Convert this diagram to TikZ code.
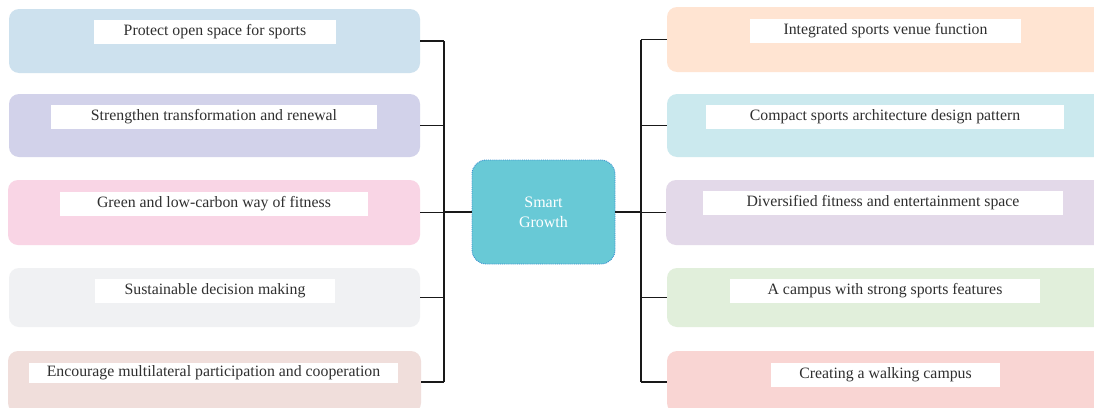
\documentclass[tikz,border=0pt]{standalone}
\usepackage{fontspec}
\setmainfont{Liberation Serif}
\begin{document}
\begin{tikzpicture}[x=1pt,y=-1pt,
  box/.style={rectangle, rounded corners=10pt, draw=none, inner sep=0pt, minimum width=#1},
  lbl/.style={rectangle, fill=white, inner sep=0pt, minimum height=24pt, text=txt, font=\fontsize{15.8}{18}\selectfont},
  conn/.style={draw=black!90, line width=1.2pt},
  ctr/.style={rectangle, rounded corners=14pt, fill=cfill, draw=cborder, densely dotted, line width=0.9pt, minimum width=143pt, minimum height=104pt, text=white, align=center, font=\fontsize{16}{20}\selectfont}]
\definecolor{txt}{HTML}{2F2F2F}
\definecolor{cfill}{HTML}{68C9D6}
\definecolor{cborder}{HTML}{3A8FD0}
\definecolor{cL1}{HTML}{CDE1EE}
\definecolor{cL2}{HTML}{D2D2EA}
\definecolor{cL3}{HTML}{F9D5E5}
\definecolor{cL4}{HTML}{F0F1F3}
\definecolor{cL5}{HTML}{F0DEDB}
\definecolor{cR1}{HTML}{FFE4D2}
\definecolor{cR2}{HTML}{CBE9EE}
\definecolor{cR3}{HTML}{E3D9E9}
\definecolor{cR4}{HTML}{E1EFDB}
\definecolor{cR5}{HTML}{F9D5D3}
\useasboundingbox (0,0) rectangle (1094,407);
\clip (0,0) rectangle (1094,407);
\fill[white] (0,0) rectangle (1094,407);
% left boxes
\node[box=411pt, fill=cL1, minimum height=64pt] (l1) at (214.5,41) {};
\node[box=411pt, fill=cL2, minimum height=63pt] (l2) at (214.5,125.5) {};
\node[box=412pt, fill=cL3, minimum height=65pt] (l3) at (214,212.5) {};
\node[box=411pt, fill=cL4, minimum height=59pt] (l4) at (214.5,297.5) {};
\node[box=413pt, fill=cL5, minimum height=62pt] (l5) at (214.5,382) {};
% right boxes
\node[box=450pt, fill=cR1, minimum height=65pt] (r1) at (892,39.5) {};
\node[box=450pt, fill=cR2, minimum height=63pt] (r2) at (892,125.5) {};
\node[box=450pt, fill=cR3, minimum height=65pt] (r3) at (891,212.5) {};
\node[box=450pt, fill=cR4, minimum height=59pt] (r4) at (892,297.5) {};
\node[box=450pt, fill=cR5, minimum height=62pt] (r5) at (892,382) {};
% labels
\node[lbl, minimum width=242pt] (t1) at (215,32) {Protect open space for sports};
\node[lbl, minimum width=326pt] (t2) at (214,117) {Strengthen transformation and renewal};
\node[lbl, minimum width=308pt] (t3) at (214,204) {Green and low-carbon way of fitness};
\node[lbl, minimum width=240pt] (t4) at (215,291) {Sustainable decision making};
\node[lbl, minimum width=369pt, minimum height=20pt] (t5) at (213.5,373) {Encourage multilateral participation and cooperation};
\node[lbl, minimum width=271pt] (s1) at (885.5,31) {Integrated sports venue function};
\node[lbl, minimum width=358pt] (s2) at (885,117) {Compact sports architecture design pattern};
\node[lbl, minimum width=360pt] (s3) at (883,203) {Diversified fitness and entertainment space};
\node[lbl, minimum width=310pt] (s4) at (885,291) {A campus with strong sports features};
\node[lbl, minimum width=229pt] (s5) at (885.5,375) {Creating a walking campus};
% center
\node[ctr] (c) at (543.5,212) {Smart\\Growth};
% buses
\coordinate (lbus) at (444,0);
\coordinate (rbus) at (641,0);
\draw[conn] (lbus |- l1.east) -- (lbus |- l5.east);
\draw[conn] (rbus |- r1.west) -- (rbus |- r5.west);
\foreach \n in {l1,l2,l3,l4,l5}{\draw[conn] (\n.east) -- (lbus |- \n.east);}
\foreach \n in {r1,r2,r3,r4,r5}{\draw[conn] (\n.west) -- (rbus |- \n.west);}
\draw[conn] (c.west) -- (lbus |- c.west);
\draw[conn] (c.east) -- (rbus |- c.east);
\end{tikzpicture}
\end{document}
